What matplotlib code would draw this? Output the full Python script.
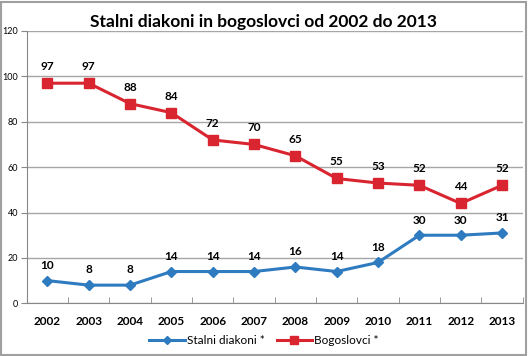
import matplotlib
matplotlib.use("Agg")
import matplotlib.pyplot as plt
from matplotlib.patches import Rectangle

years = ["2002", "2003", "2004", "2005", "2006", "2007", "2008", "2009", "2010", "2011", "2012", "2013"]
diakoni = [10, 8, 8, 14, 14, 14, 16, 14, 18, 30, 30, 31]
bogoslovci = [97, 97, 88, 84, 72, 70, 65, 55, 53, 52, 44, 52]
yticks = [0, 20, 40, 60, 80, 100, 120]

plt.rcParams['font.family'] = ['Lato', 'DejaVu Sans']

W, H = 528, 356
fig = plt.figure(figsize=(W / 100, H / 100), dpi=100)
ax = fig.add_axes([26.7 / W, (H - 303.3) / H, (522.7 - 26.7) / W, (303.3 - 31) / H])

blue = "#2F7BC0"
red = "#D9252F"
x = list(range(len(years)))
ax.plot(x, diakoni, color=blue, lw=2.2, marker="D", ms=5.5, label="Stalni diakoni *", zorder=3)
ax.plot(x, bogoslovci, color=red, lw=2.2, marker="s", ms=7, label="Bogoslovci *", zorder=3)

for xi, v in zip(x, diakoni):
    ax.annotate(str(v), (xi, v), xytext=(0, 7), textcoords="offset points",
                ha="center", va="bottom", fontsize=8.5, fontweight="bold", color="black")
for xi, v in zip(x, bogoslovci):
    ax.annotate(str(v), (xi, v), xytext=(0, 8), textcoords="offset points",
                ha="center", va="bottom", fontsize=8.5, fontweight="bold", color="black")

ax.set_xlim(-0.5, len(years) - 0.5)
ax.set_ylim(0, 120)
ax.set_yticks(yticks)
ax.set_yticklabels([str(t) for t in yticks], fontsize=6.5)
ax.set_xticks(x)
ax.set_xticklabels(years, fontsize=8.5, fontweight="bold")
ax.set_xticks([i + 0.5 for i in range(-1, len(years))], minor=True)
ax.tick_params(axis="x", which="major", length=0, pad=9)
ax.tick_params(axis="x", which="minor", length=4, color="#888888", direction="in")
ax.tick_params(axis="y", length=4, color="#888888", direction="out", pad=2)
ax.grid(axis="y", color="#A6A6A6", lw=1)
ax.set_axisbelow(True)
for s in ["top", "right"]:
    ax.spines[s].set_visible(False)
ax.spines["left"].set_color("#888888")
ax.spines["bottom"].set_color("#888888")

fig.text(0.5, 1 - 22 / H, "Stalni diakoni in bogoslovci od 2002 do 2013",
         ha="center", va="center", fontsize=12.5, fontweight="bold")

leg = fig.legend(loc="center", bbox_to_anchor=(0.5, 1 - 341 / H), ncol=2, frameon=False,
                 fontsize=8.5, handlelength=3, columnspacing=1.0, handletextpad=0.2,
                 markerscale=0.8)

fig.patches.append(Rectangle((0.002, 0.003), 0.994, 0.992, transform=fig.transFigure,
                             fill=False, edgecolor="#A0A0A0", lw=1.5))

fig.savefig("out.png", dpi=100)
